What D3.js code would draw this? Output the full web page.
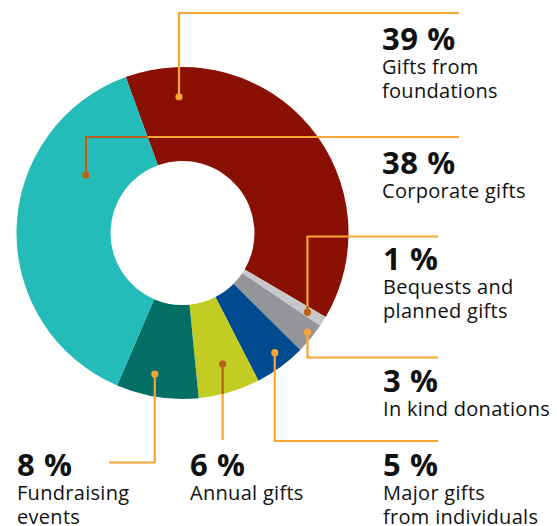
<!DOCTYPE html>
<html><head><meta charset="utf-8">
<script src="https://cdn.jsdelivr.net/npm/d3@7"></script>
<style>body{margin:0;background:#fff}svg{display:block}</style>
</head><body>
<svg id="chart" width="557" height="526"></svg>
<script>
// ---- data ----
const categories = ["Gifts from foundations","Bequests and planned gifts","In kind donations","Major gifts from individuals","Annual gifts","Fundraising events","Corporate gifts"];
const values = [39, 1, 3, 5, 6, 8, 38];
const percentLabels = ["39 %","1 %","3 %","5 %","6 %","8 %","38 %"];
const labelLines = [["Gifts from","foundations"],["Bequests and","planned gifts"],["In kind donations"],["Major gifts","from individuals"],["Annual gifts"],["Fundraising","events"],["Corporate gifts"]];
const colors = ["#8b1004","#c7c8ca","#939598","#004a90","#c3cc22","#036e64","#24bcb8"];
const darkLeader = [false, true, false, false, true, false, true];

// ---- layout (annotation placement) ----
const cx = 182.5, cy = 233, R = 166, r0 = 72;
const startDeg = -20;
// t: fraction along slice, rad: radius of anchor dot, elbowY: y of bend/end, endX: x of horizontal end (null = none), tx/ty: text position
const leaders = [
  {t:0.132, rad:136.3, elbowY:13,  endX:459, tx:382, ty:50},
  {t:0.56,  rad:148,   elbowY:236.5, endX:438, tx:383, ty:270},
  {t:0.41,  rad:159.5, elbowY:357.5, endX:438, tx:383, ty:392},
  {t:0.42,  rad:151.1, elbowY:441, endX:438, tx:383, ty:476},
  {t:0.47,  rad:137,   elbowY:440, endX:null, tx:190, ty:476},
  {t:0.58,  rad:143.8, elbowY:462.5, endX:109, tx:17, ty:476},
  {t:0.715, rad:112.6, elbowY:137, endX:459, tx:382, ty:174}
];
const orange = "#f8a535", brown = "#b5621b";
const fontFamily = "'Open Sans', sans-serif";

const svg = d3.select("#chart");
const data = categories.map((c,i)=>({cat:c, value:values[i], i}));
const pie = d3.pie().value(d=>d.value).sort(null)
  .startAngle(startDeg*Math.PI/180).endAngle(startDeg*Math.PI/180 + 2*Math.PI);
const arcs = pie(data);
const arc = d3.arc().innerRadius(r0).outerRadius(R);

const g = svg.append("g").attr("transform", `translate(${cx},${cy})`);
g.selectAll("path.slice").data(arcs).enter().append("path")
  .attr("class","slice").attr("d", arc).attr("fill", d=>colors[d.data.i]);

// clip paths for dark leader segments
const defs = svg.append("defs");
arcs.forEach(d=>{
  defs.append("clipPath").attr("id","clip"+d.data.i)
    .append("path").attr("transform", `translate(${cx},${cy})`).attr("d", arc(d));
});

function anchor(d){
  const L = leaders[d.data.i];
  const a = d.startAngle + L.t*(d.endAngle - d.startAngle);
  return [cx + L.rad*Math.sin(a), cy - L.rad*Math.cos(a)];
}
function leaderPath(d){
  const L = leaders[d.data.i];
  const [x,y] = anchor(d);
  const p = d3.path();
  p.moveTo(x,y); p.lineTo(x,L.elbowY);
  if (L.endX !== null) p.lineTo(L.endX, L.elbowY);
  return p.toString();
}

const lg = svg.append("g");
arcs.forEach(d=>{
  const [x,y] = anchor(d);
  lg.append("path").attr("d", leaderPath(d)).attr("fill","none")
    .attr("stroke", orange).attr("stroke-width", 2.2);
  lg.append("circle").attr("cx",x).attr("cy",y).attr("r",3.6).attr("fill",orange);
  if (darkLeader[d.data.i]) {
    const cg = lg.append("g").attr("clip-path", `url(#clip${d.data.i})`);
    cg.append("path").attr("d", leaderPath(d)).attr("fill","none")
      .attr("stroke", brown).attr("stroke-width", 2.2);
    cg.append("circle").attr("cx",x).attr("cy",y).attr("r",3.6).attr("fill",brown);
  }
});

// labels
const tg = svg.append("g").attr("font-family", fontFamily).attr("fill","#111");
arcs.forEach(d=>{
  const i = d.data.i, L = leaders[i];
  tg.append("text").attr("x", L.tx).attr("y", L.ty)
    .attr("font-size", 31).attr("font-weight", 700).attr("letter-spacing", 0.6)
    .text(percentLabels[i]);
  labelLines[i].forEach((line, k)=>{
    tg.append("text").attr("x", L.tx).attr("y", L.ty + 24 + k*23.5)
      .attr("font-size", 20).attr("letter-spacing", 0.3)
      .text(line);
  });
});
</script>
</body></html>
